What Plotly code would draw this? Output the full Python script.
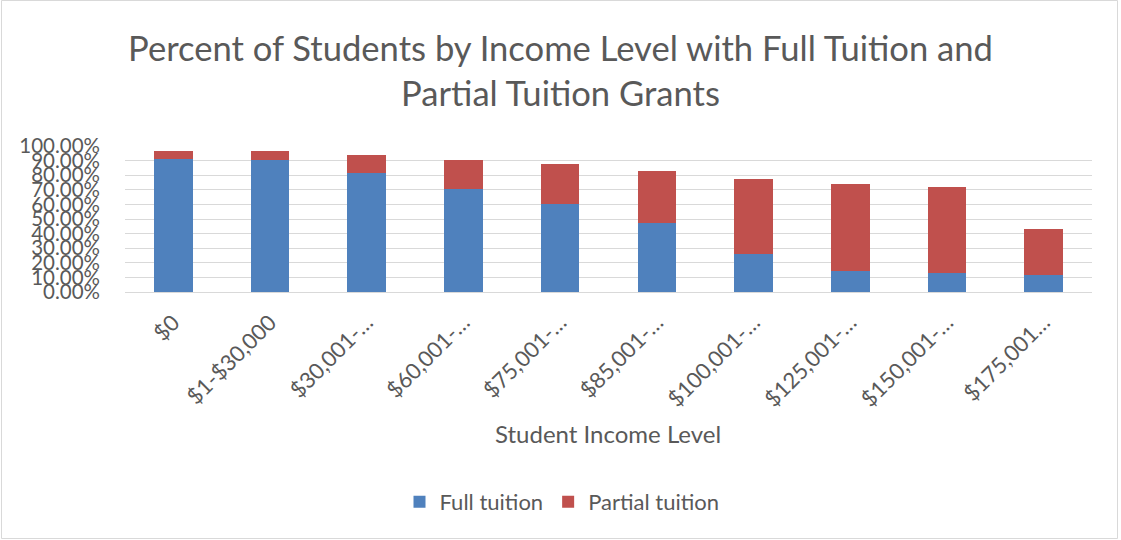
import plotly.graph_objects as go

categories = ["$0", "$1-$30,000", "$30,001-…", "$60,001-…", "$75,001-…",
              "$85,001-…", "$100,001-…", "$125,001-…", "$150,001-…", "$175,001…"]
full_tuition = [0.911, 0.902, 0.818, 0.704, 0.604, 0.476, 0.258, 0.141, 0.128, 0.114]
partial_tuition = [0.053, 0.066, 0.118, 0.200, 0.271, 0.356, 0.514, 0.599, 0.590, 0.317]
y_ticks = [i / 10 for i in range(11)]

FONT = "Lato"
GREY = "#595959"

L, R, T, B = 125, 29, 146, 248
W, H = 1121, 540
PW, PH = W - L - R, H - T - B

def px_x(p):
    return (p - L) / PW

def px_y(p):
    return (H - B - p) / PH

fig = go.Figure()
fig.add_trace(go.Bar(x=categories, y=full_tuition, name="Full tuition",
                     marker=dict(color="#4F81BD", line=dict(width=0))))
fig.add_trace(go.Bar(x=categories, y=partial_tuition, name="Partial tuition",
                     marker=dict(color="#C0504D", line=dict(width=0))))

fig.update_layout(
    width=W, height=H,
    barmode="stack", bargap=0.6,
    paper_bgcolor="white", plot_bgcolor="white",
    font=dict(family=FONT, color=GREY),
    margin=dict(l=L, r=R, t=T, b=B, autoexpand=False),
    title=dict(text="Percent of Students by Income Level with Full Tuition and<br>Partial Tuition Grants",
               x=0.5, xanchor="center", xref="container",
               y=1 - 61 / H, yanchor="top", yref="container",
               font=dict(family=FONT, size=34.6, color=GREY)),
    xaxis=dict(tickangle=-45, tickfont=dict(size=22, color=GREY), automargin=False,
               ticklabelstandoff=8,
               showline=True, linecolor="#d9d9d9", linewidth=1, ticks=""),
    yaxis=dict(range=[0, 1], tickvals=y_ticks, tickformat=".2%", automargin=False,
               tickfont=dict(size=20.5, color=GREY), ticklabelstandoff=24,
               showgrid=True, gridcolor="#d9d9d9", gridwidth=1,
               zeroline=False, ticks="", ticklen=0),
    legend=dict(orientation="h", xref="container", x=562 / W, xanchor="center",
                yref="container", y=1 - 502 / H, yanchor="middle",
                font=dict(size=22, color=GREY), traceorder="normal"),
    annotations=[dict(text="Student Income Level", xref="paper", yref="paper",
                      x=px_x(608), y=px_y(433), xanchor="center", yanchor="middle",
                      showarrow=False, font=dict(size=24, color=GREY))],
    shapes=[dict(type="rect", xref="paper", yref="paper",
                 x0=px_x(1.5), x1=px_x(1117.5), y0=px_y(538.5), y1=px_y(0.5),
                 line=dict(color="#d9d9d9", width=1), fillcolor="rgba(0,0,0,0)", layer="below")],
)

fig.write_html("out.html", config={"displayModeBar": False},
               post_script="document.body.style.margin='0px';document.body.style.overflow='hidden';")
